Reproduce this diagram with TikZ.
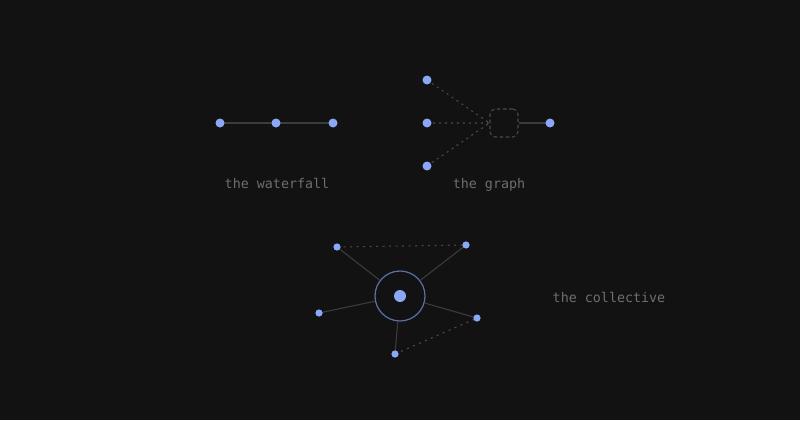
\documentclass[tikz,border=0pt]{standalone}
\usepackage{fontspec}
\newfontfamily\labelfont{DejaVu Sans Mono}
\usetikzlibrary{arrows,calc}
\usepackage{tkz-euclide}
\definecolor{BgClr}{HTML}{121212}
\definecolor{DotClr}{HTML}{89A8F7}
\definecolor{LineClr}{HTML}{3C3C3E}
\definecolor{DashClr}{HTML}{4A4A4C}
\definecolor{RingClr}{HTML}{5A6EA8}
\definecolor{TextClr}{HTML}{6E6E70}

\begin{document}
\begin{tikzpicture}
\fill[BgClr] (0,0) rectangle (16,-8.4);
\useasboundingbox (0,0) rectangle (16,-8.4);

\tkzDefPoints{4.40/-2.46/W1,5.52/-2.46/W2,6.66/-2.46/W3}
\tkzDefPoints{8.54/-1.60/G1,8.54/-2.46/G2,8.54/-3.32/G3,11.00/-2.46/G4}
\tkzDefPoints{8.00/-5.92/O,6.74/-4.94/C1,9.32/-4.90/C2,6.38/-6.26/C3,9.54/-6.36/C4,7.90/-7.08/C5}

\node[draw=DashClr,line width=0.6pt,dashed,dash pattern=on 2pt off 1.5pt,rounded corners=3pt,minimum size=0.56cm] (box) at (10.08,-2.46) {};
\node[draw=RingClr,line width=0.7pt,circle,minimum size=1cm,inner sep=0pt] (ring) at (O) {};

% the waterfall
\tkzDrawSegments[line width=0.6pt,color=LineClr](W1,W2 W2,W3)

% the graph
\draw[line width=0.6pt,color=DashClr,dash pattern=on 1.2pt off 2.2pt] (G1) -- (box.west) (G2) -- (box.west) (G3) -- (box.west);
\draw[line width=0.6pt,color=LineClr] (box) -- (G4);

% the collective
\draw[line width=0.6pt,color=LineClr] (ring) -- (C1) (ring) -- (C2) (ring) -- (C3) (ring) -- (C4) (ring) -- (C5);
\draw[line width=0.6pt,color=DashClr,dash pattern=on 1.2pt off 2.5pt] (C1) -- (C2) (C5) -- (C4);

\foreach \p in {W1,W2,W3,G1,G2,G3,G4} \fill[DotClr] (\p) circle (0.09);
\foreach \p in {C1,C2,C3,C4,C5} \fill[DotClr] (\p) circle (0.072);
\fill[DotClr] (O) circle (0.12);

\node[text=TextClr,anchor=base,font=\labelfont\fontsize{7.6}{9}\selectfont] (lblW) at (5.54,-3.76) {the waterfall};
\node[text=TextClr,anchor=base,font=\labelfont\fontsize{7.6}{9}\selectfont] (lblG) at (9.78,-3.76) {the graph};
\node[text=TextClr,anchor=base,font=\labelfont\fontsize{7.6}{9}\selectfont] (lblC) at (12.18,-6.04) {the collective};

\end{tikzpicture}
\end{document}
